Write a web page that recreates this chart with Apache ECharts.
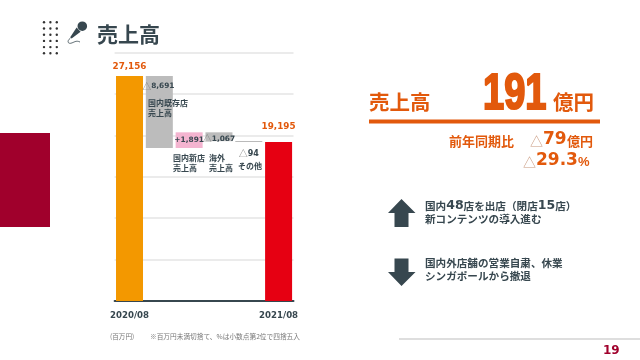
<!DOCTYPE html>
<html><head><meta charset="utf-8">
<style>html,body{margin:0;padding:0;background:#fff}#c{width:640px;height:360px}</style>
<script src="https://cdn.jsdelivr.net/npm/echarts@6/dist/echarts.min.js"></script>
</head><body><div id="c"></div>
<script>
const categories = ['2020/08', '既存店', '新店', '海外', 'その他', '2021/08'];
const tickLabels = ['2020/08', '', '', '', '', '2021/08'];
const baseValues = [0, 18465, 18465, 19289, 19195, 0];
const barValues = [27156, 8691, 1891, 1067, 94, 19195];
const barColors = ['#f39800', '#bcbcbc', '#f4b4d0', '#bcbcbc', '#a6a6a6', '#e60012'];
const barLabels = ['27,156', '{t|△}8,691', '+1,891', '{t|△}1,067', '{t|△}94', '19,195'];

const NAVY = '#37474f', ORANGE = '#e2590c', CRIMSON = '#a0002c';
const FONT = '"DejaVu Sans","Noto Sans CJK JP",sans-serif';
const CJK = '"Noto Sans CJK JP",sans-serif';

function txt(x, y, text, size, color, extra) {
  return {type: 'text', x, y, z: 50, silent: true, style: Object.assign({
    text, fontSize: size, fontFamily: CJK, fontWeight: 'bold', fill: color,
    verticalAlign: 'middle'
  }, extra || {})};
}
const dots = [];
[22.3, 28.5, 34.7, 40.9, 47.1, 53.3].forEach(y => [44, 50.4, 56.8].forEach(x =>
  dots.push({type: 'circle', silent: true, shape: {cx: x, cy: y, r: 1.2}, style: {fill: '#333'}})));

const graphics = [
  {type: 'rect', silent: true, shape: {x: 0, y: 133, width: 50, height: 94}, style: {fill: CRIMSON}},
  ...dots,
  // microphone
  {type: 'circle', silent: true, shape: {cx: 82.3, cy: 26.2, r: 4.8}, style: {fill: NAVY}},
  {type: 'polygon', silent: true, shape: {points: [[76.6, 27.6], [80.6, 31.8], [71.6, 38.6], [70.2, 37.2]]}, style: {fill: NAVY}},
  {type: 'bezierCurve', silent: true, shape: {x1: 70.5, y1: 38, cpx1: 66.5, cpy1: 41, cpx2: 68, cpy2: 44, x2: 71, y2: 43.2}, style: {fill: 'none', stroke: NAVY, lineWidth: 0.8}},
  {type: 'bezierCurve', silent: true, shape: {x1: 71, y1: 43.2, cpx1: 74, cpy1: 42.5, cpx2: 76, cpy2: 40, x2: 80, y2: 42}, style: {fill: 'none', stroke: NAVY, lineWidth: 0.8}},
  txt(97, 34, '売上高', 21, NAVY),
  // waterfall captions
  txt(148, 103, '国内既存店', 8, NAVY),
  txt(148, 113, '売上高', 8, NAVY),
  txt(173, 158, '国内新店', 8, NAVY),
  txt(173, 168, '売上高', 8, NAVY),
  txt(209, 158, '海外', 8, NAVY),
  txt(209, 168, '売上高', 8, NAVY),
  txt(238, 166, 'その他', 8, NAVY),
  txt(110, 336, '(百万円)', 6.6, '#777', {fontWeight: 'normal'}),
  txt(150, 336, '※百万円未満切捨て、%は小数点第2位で四捨五入', 6.7, '#777', {fontWeight: 'normal'}),
  // summary panel
  txt(369, 102, '売上高', 20.5, ORANGE),
  {type: 'text', silent: true, x: 483, y: 95, scaleX: 0.76, style: {
    text: '191', fontSize: 50, fontFamily: '"Liberation Sans",sans-serif', fontWeight: 'bold', fill: ORANGE, stroke: ORANGE, lineWidth: 2.2, verticalAlign: 'middle'}},
  txt(553, 102, '億円', 20.5, ORANGE),
  {type: 'rect', silent: true, shape: {x: 369, y: 119.5, width: 231, height: 4}, style: {fill: ORANGE}},
  txt(449, 141, '前年同期比', 13, ORANGE),
  txt(530, 141, '△', 13, '#c9997f', {fontWeight: 'normal'}),
  txt(543, 140, '79', 17, ORANGE, {fontFamily: FONT}),
  txt(567, 141, '億円', 13, ORANGE),
  txt(523, 162, '△', 13, '#c9997f', {fontWeight: 'normal'}),
  txt(536, 161, '29.3', 17, ORANGE, {fontFamily: FONT}),
  txt(578, 162, '%', 13, ORANGE, {fontFamily: '"Liberation Sans",sans-serif'}),
  // arrows
  {type: 'polygon', silent: true, shape: {points: [[401.5, 199], [415.5, 213], [408.5, 213], [408.5, 227], [394.5, 227], [394.5, 213], [388, 213]]}, style: {fill: NAVY}},
  {type: 'polygon', silent: true, shape: {points: [[401.5, 286], [415.5, 272], [408.5, 272], [408.5, 258.5], [394.5, 258.5], [394.5, 272], [388, 272]]}, style: {fill: NAVY}},
  {type: 'text', silent: true, x: 425, y: 206, style: {
    text: '{a|国内}{b|48}{a|店を出店（閉店}{b|15}{a|店）}', verticalAlign: 'middle',
    rich: {a: {fontSize: 10.6, fontFamily: CJK, fontWeight: 'bold', fill: NAVY}, b: {fontSize: 12.5, fontFamily: FONT, fontWeight: 'bold', fill: NAVY}}}},
  txt(425, 219, '新コンテンツの導入進む', 10.6, NAVY),
  txt(425, 263, '国内外店舗の営業自粛、休業', 10.6, NAVY),
  txt(425, 276, 'シンガポールから撤退', 10.6, NAVY),
  {type: 'rect', silent: true, shape: {x: 399, y: 338.5, width: 241, height: 1}, style: {fill: '#bdbdbd'}},
  txt(603, 351, '19', 12, CRIMSON, {fontFamily: FONT})
];

const labelCfg = [
  {position: 'top', distance: 5, color: ORANGE, fontSize: 8.8},
  {position: 'insideTop', distance: 0, offset: [-1, 6], fontSize: 7.4},
  {position: 'inside', fontSize: 7.4},
  {position: 'inside', offset: [0, 2], fontSize: 7.4},
  {position: 'bottom', distance: 7, fontSize: 8},
  {position: 'top', distance: 11, color: ORANGE, fontSize: 8.8}
];

const chart = echarts.init(document.getElementById('c'), null, {renderer: 'canvas'});
chart.setOption({
  animation: false,
  backgroundColor: '#fff',
  grid: {left: 114.6, right: 346.5, top: 52.4, bottom: 59},
  xAxis: {
    type: 'category', data: categories,
    axisTick: {show: false},
    axisLine: {lineStyle: {color: NAVY, width: 2}},
    axisLabel: {
      interval: 0, margin: 10, fontSize: 8.6, fontWeight: 'bold', color: NAVY, fontFamily: FONT,
      formatter: (v, i) => tickLabels[i], hideOverlap: false
    }
  },
  yAxis: {
    type: 'value', min: 0, max: 30000, interval: 5000,
    axisLabel: {show: false}, axisLine: {show: false}, axisTick: {show: false},
    splitLine: {lineStyle: {color: '#e4e4e4', width: 1.5}}
  },
  series: [
    {type: 'bar', stack: 'w', barWidth: 27, silent: true, itemStyle: {color: 'transparent'}, data: baseValues},
    {type: 'bar', stack: 'w', barWidth: 27, silent: true,
     data: barValues.map((v, i) => ({
       value: v,
       itemStyle: {color: barColors[i]},
       label: Object.assign({
         show: true, formatter: barLabels[i], fontWeight: 'bold', fontFamily: FONT, color: NAVY,
         rich: {t: {color: '#808080', fontWeight: 'normal', fontSize: 9, fontFamily: CJK}}
       }, labelCfg[i])
     }))}
  ],
  graphic: graphics
});
</script></body></html>
